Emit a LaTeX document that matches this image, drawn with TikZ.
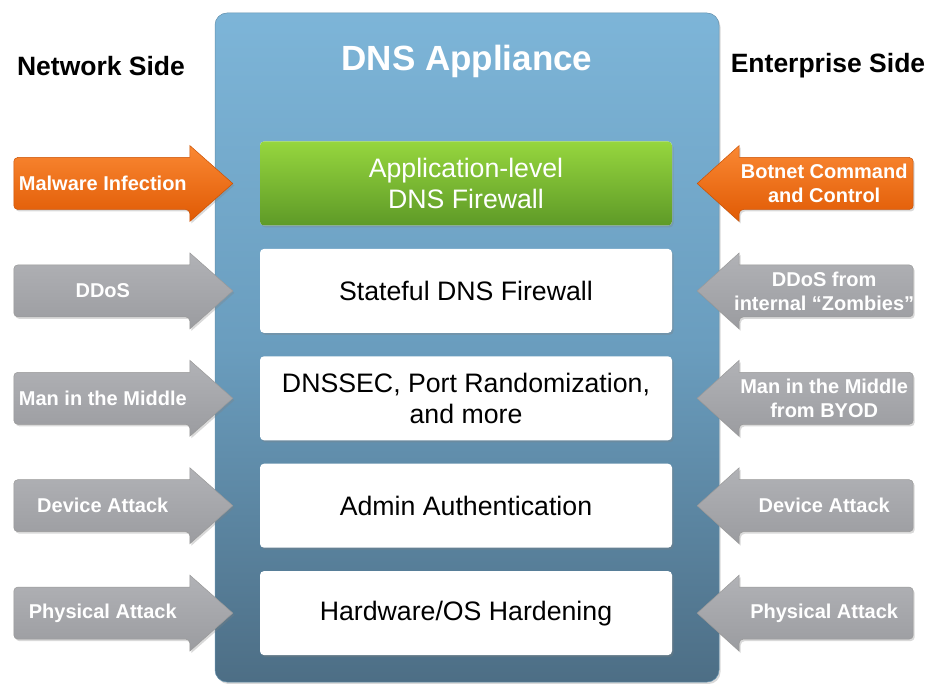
\documentclass[tikz,border=0pt]{standalone}
\usepackage{fontspec}
\setmainfont{Liberation Sans}
\usetikzlibrary{positioning, calc, shadows}
\definecolor{applTop}{HTML}{7DB5D8}
\definecolor{applMid}{HTML}{6A9DBE}
\definecolor{applBot}{HTML}{4D6E85}
\definecolor{orangeTop}{HTML}{FA8833}
\definecolor{orangeBot}{HTML}{E05A04}
\definecolor{greyTop}{HTML}{B1B2B6}
\definecolor{greyBot}{HTML}{9B9CA0}
\definecolor{greenTop}{HTML}{96D63E}
\definecolor{greenBot}{HTML}{5E9A27}
\tikzstyle{softshadow} = [drop shadow={opacity=.3, shadow xshift=1.5pt, shadow yshift=-2pt}]
\tikzstyle{layer} = [rectangle, rounded corners=4pt, minimum width=412pt, minimum height=84pt, align=center, fill=white, softshadow, font=\fontsize{26.7}{31}\selectfont]
\tikzstyle{hotlayer} = [layer, top color=greenTop, bottom color=greenBot, text=white]
\tikzstyle{attack} = [draw=black!40, line width=.5pt, top color=greyTop, bottom color=greyBot, softshadow]
\tikzstyle{hotattack} = [draw=orangeBot!90!black, line width=.5pt, top color=orangeTop, bottom color=orangeBot, softshadow]
\tikzstyle{attacktext} = [align=center, text=white, font=\fontsize{20}{24}\selectfont\bfseries]
\tikzstyle{sidetitle} = [font=\fontsize{26.5}{30}\selectfont\bfseries]

% arrow from the network side: box, name, style, label
\newcommand{\netarrow}[4]{%
  \coordinate (#2tip) at ($(#1.west)+(-27,0)$);
  \path[#3] (#2tip) -- ++(-43,-38) -- ++(0,12) [rounded corners=4pt] -- ++(-176,0) -- ++(0,52) -- ++(176,0) [sharp corners] -- ++(0,12) -- cycle;
  \node[attacktext] (#2) at ($(#2tip)+(-130,0)$) {#4};}
% arrow from the enterprise side
\newcommand{\entarrow}[4]{%
  \coordinate (#2tip) at ($(#1.east)+(25,0)$);
  \path[#3] (#2tip) -- ++(42,-38) -- ++(0,12) [rounded corners=4pt] -- ++(174,0) -- ++(0,52) -- ++(-174,0) [sharp corners] -- ++(0,12) -- cycle;
  \node[attacktext] (#2) at ($(#2tip)+(127,0)$) {#4};}

\begin{document}
\begin{tikzpicture}[x=1pt, y=-1pt, node distance=23pt]
\useasboundingbox (0,0) rectangle (939,684);

% the appliance
\path[rounded corners=12pt, draw=applTop!80!black, line width=.5pt, top color=applTop, bottom color=applBot, middle color=applMid, softshadow] (215,13) rectangle (719,682);
\node (title) [text=white, font=\fontsize{35}{40}\selectfont\bfseries] at (467,61) {DNS Appliance};
\node (net) [sidetitle] at (101,66) {Network Side};
\node (ent) [sidetitle] at (828,66) {Enterprise Side};

% protection layers
\node (appfw) [hotlayer] at (466,183.5) {Application-level\\DNS Firewall};
\node (statefw) [layer, below=of appfw] {Stateful DNS Firewall};
\node (dnssec) [layer, below=of statefw] {DNSSEC, Port Randomization,\\and more};
\node (admin) [layer, below=of dnssec] {Admin Authentication};
\node (harden) [layer, below=of admin] {Hardware/OS Hardening};

% attacks from both sides
\netarrow{appfw}{malware}{hotattack}{Malware Infection}
\netarrow{statefw}{ddos}{attack}{DDoS}
\netarrow{dnssec}{mitm}{attack}{Man in the Middle}
\netarrow{admin}{devnet}{attack}{Device Attack}
\netarrow{harden}{physnet}{attack}{Physical Attack}

\entarrow{appfw}{botnet}{hotattack}{Botnet Command\\and Control}
\entarrow{statefw}{zombies}{attack}{DDoS from\\internal ``Zombies''}
\entarrow{dnssec}{byod}{attack}{Man in the Middle\\from BYOD}
\entarrow{admin}{devent}{attack}{Device Attack}
\entarrow{harden}{physent}{attack}{Physical Attack}
\end{tikzpicture}
\end{document}
